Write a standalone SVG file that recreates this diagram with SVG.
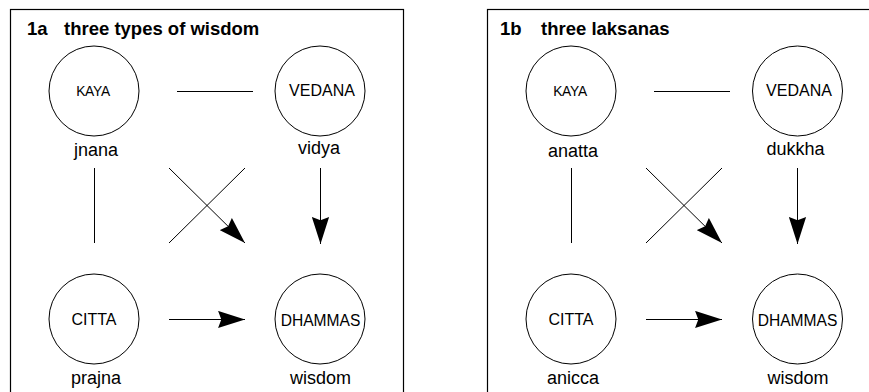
<svg xmlns="http://www.w3.org/2000/svg" width="869" height="392" viewBox="0 0 869 392">
<style>
.frame{fill:none;stroke:#000;stroke-width:1.2}
.node circle{fill:#fff;stroke:#000;stroke-width:1}
.title{font-family:"Liberation Sans",Arial,sans-serif;font-weight:bold;font-size:18.5px;fill:#000}
.nt{font-family:"Liberation Sans",Arial,sans-serif;font-size:16px;text-anchor:middle;fill:#000}
.nt.small{font-size:13.8px;letter-spacing:-0.3px}
.nt.wide{font-size:15.6px}
.lbl{font-family:"Liberation Sans",Arial,sans-serif;font-size:18px;text-anchor:middle;fill:#000}
.edge{stroke:#000;stroke-width:1;fill:none}
.arrow{marker-end:url(#ah)}
</style>
<defs>
<marker id="ah" markerUnits="userSpaceOnUse" markerWidth="28" markerHeight="18" viewBox="0 0 26 16" refX="25" refY="8" orient="auto">
<path d="M0,0 L25,8 L0,16 L3,8 Z" fill="#000"/>
</marker>
</defs>
<g id="panel-1a">
<rect class="frame" x="10.5" y="9.5" width="393" height="400"/>
<text class="title" x="27" y="35">1a<tspan x="64">three types of wisdom</tspan></text>
</g>
<g id="panel-1b">
<rect class="frame" x="487.5" y="9.5" width="393" height="400"/>
<text class="title" x="500" y="35">1b<tspan x="541">three laksanas</tspan></text>
</g>
<g id="connectors">
<line class="edge" x1="177" y1="91.5" x2="253" y2="91.5"/>
<line class="edge" x1="94.5" y1="168" x2="94.5" y2="243"/>
<line class="edge arrow" x1="169" y1="168" x2="245" y2="243"/>
<line class="edge" x1="245" y1="168" x2="169" y2="243"/>
<line class="edge arrow" x1="320.5" y1="168" x2="320.5" y2="244"/>
<line class="edge arrow" x1="169" y1="319.5" x2="245" y2="319.5"/>
<line class="edge" x1="654" y1="91.5" x2="730" y2="91.5"/>
<line class="edge" x1="571.5" y1="168" x2="571.5" y2="243"/>
<line class="edge arrow" x1="646" y1="168" x2="722" y2="243"/>
<line class="edge" x1="722" y1="168" x2="646" y2="243"/>
<line class="edge arrow" x1="797.5" y1="168" x2="797.5" y2="244"/>
<line class="edge arrow" x1="646" y1="319.5" x2="722" y2="319.5"/>
</g>
<g id="kaya-1a" class="node">
<circle cx="94" cy="91" r="45"/>
<text class="nt small" x="93" y="95.5">KAYA</text>
<text class="lbl" x="96" y="156">jnana</text>
</g>
<g id="vedana-1a" class="node">
<circle cx="320" cy="91" r="45"/>
<text class="nt" x="322" y="96">VEDANA</text>
<text class="lbl" x="319" y="154">vidya</text>
</g>
<g id="citta-1a" class="node">
<circle cx="94" cy="319" r="45"/>
<text class="nt" x="94" y="325">CITTA</text>
<text class="lbl" x="96" y="384">prajna</text>
</g>
<g id="dhammas-1a" class="node">
<circle cx="320" cy="319" r="45"/>
<text class="nt wide" x="320.5" y="325.5">DHAMMAS</text>
<text class="lbl" x="320.5" y="384">wisdom</text>
</g>
<g id="kaya-1b" class="node">
<circle cx="571" cy="91" r="45"/>
<text class="nt small" x="570" y="95.5">KAYA</text>
<text class="lbl" x="573" y="157">anatta</text>
</g>
<g id="vedana-1b" class="node">
<circle cx="797.5" cy="91" r="45"/>
<text class="nt" x="799" y="96">VEDANA</text>
<text class="lbl" x="795.5" y="155">dukkha</text>
</g>
<g id="citta-1b" class="node">
<circle cx="571" cy="319" r="45"/>
<text class="nt" x="571" y="325">CITTA</text>
<text class="lbl" x="573" y="384">anicca</text>
</g>
<g id="dhammas-1b" class="node">
<circle cx="797.5" cy="319" r="45"/>
<text class="nt wide" x="797.5" y="325.5">DHAMMAS</text>
<text class="lbl" x="798" y="384">wisdom</text>
</g>
</svg>
